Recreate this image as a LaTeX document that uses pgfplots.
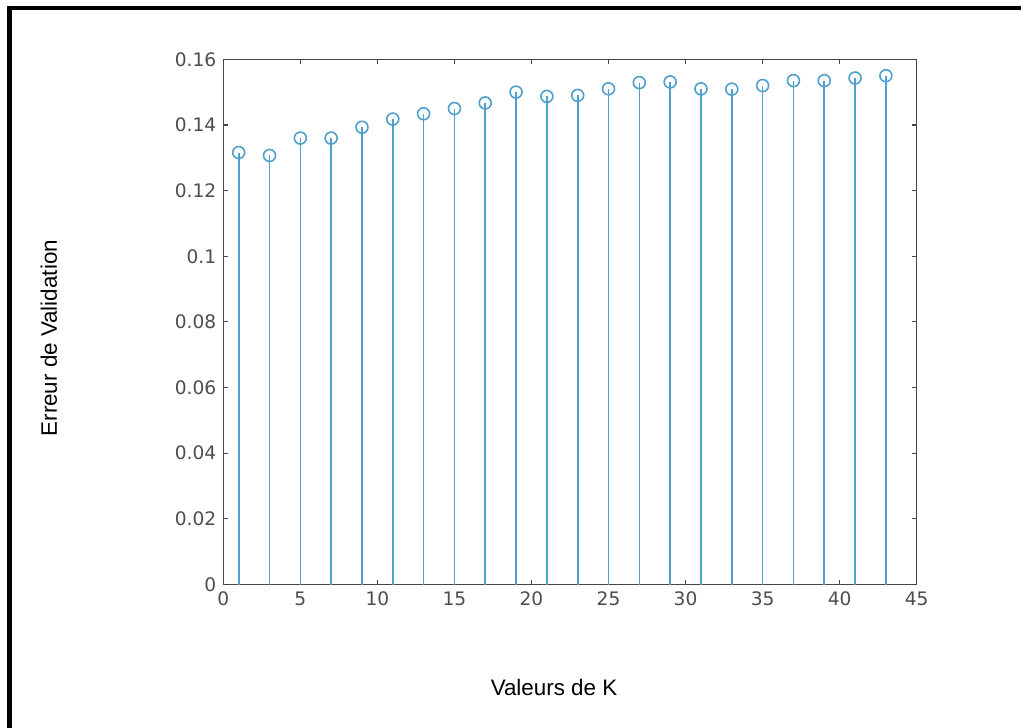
\documentclass[border=0pt]{standalone}
\usepackage{pgfplots}
\pgfplotsset{compat=1.18}
\usepackage{fontspec}
\setmainfont{Liberation Sans}
\newfontfamily\tickfont{DejaVu Sans}
\definecolor{stemblue}{RGB}{80,160,205}
\definecolor{axgray}{RGB}{70,70,70}
\definecolor{tickgray}{RGB}{77,77,77}
\begin{document}
\begin{tikzpicture}
\useasboundingbox (-111.65pt,-71.25pt) rectangle (398.85pt,292.25pt);
\draw[line width=2.25pt, line cap=rect, line join=miter] (-106.8pt,-80pt) -- (-106.8pt,288.25pt) -- (410pt,288.25pt);
\begin{axis}[
  at={(0,0)}, anchor=south west,
  scale only axis,
  width=346.7pt, height=262.6pt,
  xmin=0, xmax=45, ymin=0, ymax=0.16,
  xtick={0,5,...,45},
  ytick={0,0.02,0.04,0.06,0.08,0.1,0.12,0.14,0.16},
  tick align=inside,
  major tick length=2.5pt,
  axis line style={axgray, line width=0.6pt},
  tick style={axgray, line width=0.6pt},
  ticklabel style={font=\tickfont\fontsize{9.3}{11}\selectfont, text=tickgray},
  /pgf/number format/assume math mode=true,
  /pgf/number format/fixed,
  /pgf/number format/precision=2,
  scaled y ticks=false,
  xlabel={Valeurs de K},
  ylabel={Erreur de Validation},
  label style={font=\fontsize{11.2}{13}\selectfont, text=black},
  xlabel style={at={(axis description cs:0.477,-0.197)}, anchor=center},
  ylabel style={at={(axis description cs:-0.2514,0.469)}, anchor=center, rotate=0},
]
\addplot+[ycomb, color=stemblue, line width=0.8pt, mark=o,
  mark size=3pt, mark options={fill=white, line width=0.8pt, color=stemblue}]
coordinates {
(1,0.1316) (3,0.1307) (5,0.1360) (7,0.1360) (9,0.1393) (11,0.1418)
(13,0.1434) (15,0.1450) (17,0.1467) (19,0.1500) (21,0.1487) (23,0.1490)
(25,0.1510) (27,0.1529) (29,0.1531) (31,0.1510) (33,0.1509) (35,0.1520)
(37,0.1535) (39,0.1535) (41,0.1543) (43,0.1550)
};
\end{axis}
\end{tikzpicture}
\end{document}
